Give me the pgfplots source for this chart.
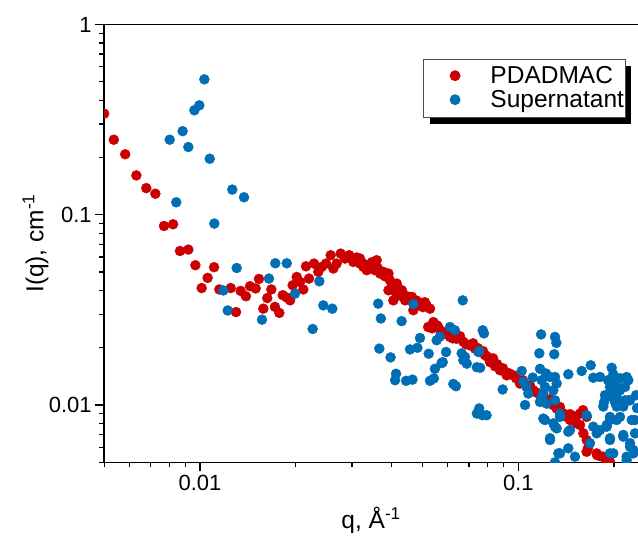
\documentclass[border=0pt]{standalone}
\usepackage{fontspec}
\setmainfont{Liberation Sans}
\usepackage{pgfplots}
\usepackage{pgfplotstable}
\pgfplotsset{compat=1.18}
\usetikzlibrary{shadows}
\definecolor{cred}{RGB}{204,0,0}
\definecolor{cblue}{RGB}{0,110,180}

\pgfplotstableread[row sep=\\]{
q I\\
0.005 0.340\\ 0.00536 0.248\\ 0.00582 0.208\\ 0.00631 0.161\\ 0.00678 0.138\\
0.00724 0.129\\ 0.00771 0.0873\\ 0.00823 0.0891\\ 0.00865 0.0645\\ 0.00919 0.0656\\
0.00967 0.0543\\ 0.01012 0.0412\\ 0.01057 0.0466\\ 0.01107 0.0530\\ 0.01150 0.0405\\
0.01249 0.0412\\ 0.01298 0.0308\\ 0.01342 0.0398\\ 0.01394 0.0373\\ 0.01436 0.0421\\
0.01496 0.0410\\ 0.01532 0.0460\\ 0.01581 0.0321\\ 0.01627 0.0365\\ 0.01675 0.0405\\
0.01720 0.0328\\ 0.01775 0.0305\\ 0.01820 0.0378\\ 0.01874 0.0367\\ 0.01919 0.0355\\
0.01955 0.0426\\ 0.02013 0.0471\\ 0.02062 0.0443\\ 0.02111 0.0405\\ 0.02153 0.0536\\
0.02200 0.0462\\ 0.02281 0.0554\\ 0.02353 0.0501\\ 0.02412 0.0532\\ 0.02488 0.0554\\
0.02574 0.0613\\ 0.02624 0.0522\\ 0.02687 0.0554\\ 0.02767 0.0625\\ 0.02855 0.0589\\
0.02944 0.0613\\ 0.0296 0.0600\\ 0.03031 0.0565\\ 0.0307 0.0577\\ 0.03107 0.0596\\
0.0318 0.0589\\ 0.03182 0.0554\\ 0.0326 0.0554\\ 0.03260 0.0532\\ 0.0335 0.0543\\
0.03341 0.0511\\ 0.0342 0.0532\\ 0.0347 0.0563\\ 0.0355 0.0511\\ 0.0359 0.0577\\
0.0362 0.0524\\ 0.0368 0.0491\\ 0.0377 0.0501\\ 0.0381 0.0475\\ 0.0391 0.0491\\
0.0391 0.0401\\ 0.0395 0.0453\\ 0.0401 0.0432\\ 0.0405 0.0355\\ 0.0410 0.0396\\
0.0415 0.0435\\ 0.0419 0.0410\\ 0.0425 0.0377\\ 0.0431 0.0401\\ 0.0441 0.0355\\
0.0447 0.0373\\ 0.0463 0.0370\\ 0.0468 0.0315\\ 0.0477 0.0355\\ 0.0485 0.0348\\
0.0491 0.0334\\ 0.0502 0.0327\\ 0.0509 0.0347\\ 0.0515 0.0334\\ 0.0521 0.0257\\
0.0528 0.0321\\ 0.0536 0.0253\\ 0.0541 0.0273\\ 0.0554 0.0263\\ 0.0559 0.0259\\
0.0568 0.0247\\ 0.0580 0.0241\\ 0.0589 0.0237\\ 0.0602 0.0244\\ 0.0610 0.0228\\
0.0623 0.0224\\ 0.0640 0.0223\\ 0.0656 0.0230\\ 0.0672 0.0215\\ 0.0685 0.0209\\
0.0705 0.0206\\ 0.0721 0.0211\\ 0.0731 0.0198\\ 0.0747 0.0199\\ 0.0758 0.0190\\
0.0775 0.0192\\ 0.0786 0.0183\\ 0.0798 0.0180\\ 0.0815 0.0168\\ 0.0833 0.0176\\
0.0845 0.0160\\ 0.0858 0.0164\\ 0.0876 0.01523\\ 0.0895 0.0156\\ 0.0919 0.01433\\
0.0935 0.0147\\ 0.0965 0.01433\\ 0.0984 0.01383\\ 0.1012 0.01297\\ 0.1034 0.0135\\
0.1062 0.01245\\ 0.1088 0.0127\\ 0.1114 0.01196\\ 0.1136 0.01167\\ 0.1170 0.01126\\
0.1196 0.01086\\ 0.1228 0.01038\\ 0.1258 0.01072\\ 0.1286 0.0100\\ 0.1320 0.00958\\
0.1352 0.00976\\ 0.1382 0.00906\\ 0.1419 0.00866\\ 0.1454 0.00895\\ 0.1454 0.00834\\
0.1489 0.00834\\ 0.1519 0.00873\\ 0.1526 0.00801\\ 0.1563 0.00902\\ 0.1563 0.00785\\
0.1597 0.00939\\ 0.1601 0.00710\\ 0.1640 0.00866\\ 0.1640 0.00655\\ 0.1656 0.00595\\
0.1640 0.00568\\ 0.1763 0.00557\\ 0.1768 0.00546\\ 0.1806 0.00539\\ 0.1850 0.00535\\
0.1886 0.00514\\ 0.1941 0.00502\\
}\redtable

\pgfplotstableread[row sep=\\]{
q I\\
0.01032 0.515\\ 0.00995 0.376\\ 0.00960 0.354\\ 0.00882 0.275\\ 0.00803 0.248\\
0.00919 0.227\\ 0.01073 0.197\\ 0.01263 0.1356\\ 0.01375 0.1236\\ 0.00842 0.1163\\
0.01109 0.0899\\ 0.01304 0.0525\\ 0.01724 0.0556\\ 0.01873 0.0556\\ 0.01647 0.0462\\
0.01184 0.0400\\ 0.01222 0.0314\\ 0.01566 0.0281\\ 0.01988 0.0385\\ 0.02371 0.0447\\
0.02440 0.0334\\ 0.02604 0.0321\\ 0.02259 0.0251\\ 0.0363 0.0341\\ 0.0370 0.0285\\
0.0430 0.0276\\ 0.0468 0.0339\\ 0.0669 0.0355\\ 0.0366 0.0198\\ 0.0397 0.0178\\
0.0457 0.0196\\ 0.0482 0.0200\\ 0.0491 0.0225\\ 0.0523 0.0186\\ 0.0554 0.0219\\
0.0567 0.0229\\ 0.0593 0.0190\\ 0.0574 0.0166\\ 0.0547 0.0155\\ 0.0413 0.0146\\
0.0410 0.0135\\ 0.0444 0.0134\\ 0.0465 0.0136\\ 0.0528 0.0134\\ 0.0543 0.0138\\
0.0625 0.0129\\ 0.0637 0.01256\\ 0.0610 0.0257\\ 0.0632 0.0247\\ 0.0664 0.0187\\
0.0680 0.0179\\ 0.0689 0.0165\\ 0.0741 0.0158\\ 0.0749 0.0190\\ 0.0741 0.00902\\
0.0579 0.0168\\ 0.0672 0.0172\\ 0.0759 0.0157\\ 0.0754 0.0192\\ 0.0773 0.0247\\
0.0780 0.0238\\ 0.0754 0.0096\\ 0.0772 0.00884\\ 0.0795 0.00884\\ 0.0893 0.01207\\
0.1025 0.0151\\ 0.1110 0.01394\\ 0.1036 0.01323\\ 0.1062 0.01245\\ 0.1075 0.01149\\
0.1050 0.0100\\ 0.1179 0.0235\\ 0.1304 0.0228\\ 0.1317 0.0212\\ 0.1164 0.0187\\
0.1297 0.0185\\ 0.1170 0.0155\\ 0.1222 0.01464\\ 0.1258 0.01404\\ 0.1304 0.01404\\
0.1320 0.01297\\ 0.1288 0.01196\\ 0.1184 0.01350\\ 0.1198 0.01149\\ 0.1170 0.01038\\
0.1228 0.01017\\ 0.1304 0.01059\\ 0.1198 0.00849\\ 0.1288 0.00801\\ 0.1320 0.00754\\
0.1258 0.00655\\ 0.1352 0.00902\\ 0.1436 0.00724\\ 0.1336 0.00557\\ 0.1436 0.00592\\
0.1507 0.00535\\ 0.1436 0.01451\\ 0.1582 0.01510\\ 0.1689 0.01618\\ 0.1720 0.01391\\
0.1806 0.01404\\ 0.1965 0.01570\\ 0.1988 0.01451\\ 0.1640 0.00884\\ 0.1720 0.00769\\
0.1763 0.00710\\ 0.1806 0.00739\\ 0.1850 0.00982\\ 0.1941 0.00866\\ 0.1896 0.00769\\
0.1941 0.00655\\ 0.1941 0.00557\\ 0.1988 0.00557\\ 0.2012 0.01297\\ 0.1988 0.01149\\
0.2037 0.01103\\ 0.1965 0.01196\\ 0.2087 0.01196\\ 0.2164 0.01245\\ 0.2190 0.01404\\
0.2216 0.01350\\ 0.2137 0.00982\\ 0.2216 0.01059\\ 0.2037 0.00982\\ 0.2087 0.00866\\
0.2137 0.00696\\ 0.2272 0.00834\\ 0.2327 0.00710\\ 0.2244 0.00604\\ 0.2298 0.00557\\
0.2190 0.00514\\ 0.1213 0.01245\\ 0.1184 0.01103\\ 0.1941 0.01245\\ 0.2037 0.01245\\
0.1965 0.01103\\ 0.2012 0.01038\\ 0.2164 0.01059\\ 0.2244 0.01059\\ 0.1941 0.00834\\
0.2037 0.00834\\ 0.1896 0.00785\\ 0.2327 0.00834\\ 0.1680 0.00630\\ 0.1941 0.00669\\
0.2137 0.00682\\ 0.2244 0.00630\\ 0.2298 0.00580\\ 0.2190 0.00535\\ 0.1352 0.00557\\
0.1258 0.00669\\ 0.1304 0.00769\\ 0.1213 0.00834\\ 0.1454 0.00739\\ 0.1352 0.00866\\
0.1872 0.01126\\ 0.1914 0.01350\\ 0.2087 0.01384\\ 0.2057 0.01034\\ 0.1859 0.01034\\
0.2344 0.01126\\ 0.2360 0.00964\\ 0.1304 0.00500\\
}\bluetable

\begin{document}
\begin{tikzpicture}
\begin{axis}[
  at={(0,0)}, anchor=south west,
  scale only axis, width=533.8pt, height=437.8pt,
  xmode=log, ymode=log,
  xmin=0.005, xmax=0.2377, ymin=0.005, ymax=1,
  clip marker paths=true,
  axis x line*=box, axis y line*=left,
  tick pos=left, ticklabel pos=left,
  tick align=outside,
  xtick={0.01,0.1}, xticklabels={0.01,0.1},
  ytick={0.01,0.1,1}, yticklabels={0.01,0.1,1},
  minor xtick={0.005,0.006,0.007,0.008,0.009,0.02,0.03,0.04,0.05,0.06,0.07,0.08,0.09,0.2},
  minor ytick={0.005,0.006,0.007,0.008,0.009,0.02,0.03,0.04,0.05,0.06,0.07,0.08,0.09,0.2,0.3,0.4,0.5,0.6,0.7,0.8,0.9},
  major tick length=9pt, minor tick length=5pt,
  every tick/.style={black, line width=1.3pt},
  axis line style={line width=1.5pt, black},
  tick label style={font=\fontsize{22}{26}\selectfont},
  every axis x label/.style={at={(axis description cs:0.5,-0.1508)}, anchor=base, font=\fontsize{24.5}{29}\selectfont},
  every axis y label/.style={at={(axis description cs:-0.1141,0.5)}, rotate=90, anchor=base, font=\fontsize{24.5}{29}\selectfont},
  xlabel={q, Å\textsuperscript{-1}},
  ylabel={I(q), cm\textsuperscript{-1}},
  legend cell align=left,
  legend style={at={(axis description cs:0.5978,0.9205)}, anchor=north west,
    draw=black!70, line width=0.8pt, fill=white,
    inner xsep=1.3pt, inner ysep=5pt,
    font=\fontsize{24.5}{29}\selectfont,
    nodes={inner sep=0pt, text height=19pt, text depth=5pt},
    row sep=0pt, column sep=6pt,
    drop shadow={shadow xshift=6pt, shadow yshift=-6pt, opacity=1, fill=black}},
  myleg/.style={legend image code/.code={\path (0pt,0pt) (58.7pt,0pt); \draw[##1] plot coordinates {(29.7pt,1pt)};}},
]
\addplot[only marks, mark=*, mark size=5pt, color=cred, mark options={draw=none, fill=cred}, myleg] table[x=q, y=I] {\redtable};
\addlegendentry{PDADMAC}
\addplot[only marks, mark=*, mark size=5pt, color=cblue, mark options={draw=none, fill=cblue}, myleg] table[x=q, y=I] {\bluetable};
\addlegendentry{Supernatant}
\end{axis}
\pgfresetboundingbox
\path (-104.2pt,-80.7pt) rectangle (533.8pt,462.3pt);
\end{tikzpicture}
\end{document}
